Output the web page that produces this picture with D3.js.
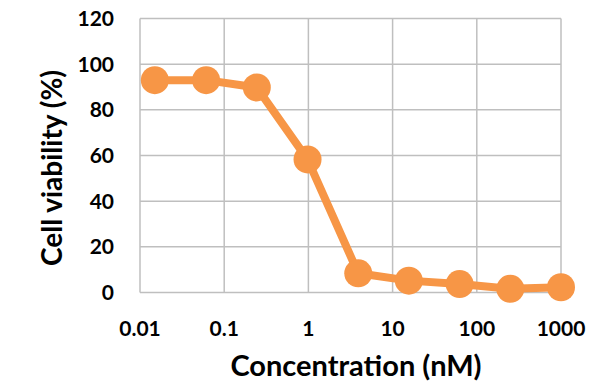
<!DOCTYPE html>
<html>
<head>
<meta charset="utf-8">
<script src="https://cdn.jsdelivr.net/npm/d3@7"></script>
<style>
  html, body { margin: 0; padding: 0; background: #fff; }
  svg { display: block; }
  text { font-family: Lato, "Open Sans", sans-serif; font-weight: bold; fill: #000; }
</style>
</head>
<body>
<svg id="chart" width="600" height="381"></svg>
<script>
// Dose–response: 4-fold serial dilution from 1000 nM
const concentrations = [0.015, 0.061, 0.244, 0.977, 3.91, 15.6, 62.5, 250, 1000];
const viability = [93.0, 93.0, 89.8, 58.3, 8.4, 5.2, 3.7, 1.6, 2.3];
const xTicks = [0.01, 0.1, 1, 10, 100, 1000];
const xTickLabels = ["0.01", "0.1", "1", "10", "100", "1000"];
const yTicks = [0, 20, 40, 60, 80, 100, 120];

const svg = d3.select("#chart");
const plot = { left: 140, right: 561, top: 18.5, bottom: 292.5 };

const x = d3.scaleLog().domain([0.01, 1000]).range([plot.left, plot.right]);
const y = d3.scaleLinear().domain([0, 120]).range([plot.bottom, plot.top]);

const gridColor = "#bfbfbf";

// Gridlines
const grid = svg.append("g");
grid.selectAll("line.h").data(yTicks).join("line")
  .attr("class", "h")
  .attr("x1", plot.left).attr("x2", plot.right)
  .attr("y1", d => y(d)).attr("y2", d => y(d))
  .attr("stroke", gridColor).attr("stroke-width", 1.5);
grid.selectAll("line.v").data(xTicks).join("line")
  .attr("class", "v")
  .attr("x1", d => x(d)).attr("x2", d => x(d))
  .attr("y1", plot.top).attr("y2", plot.bottom)
  .attr("stroke", gridColor).attr("stroke-width", 1.5);

// Y tick labels
svg.append("g").selectAll("text").data(yTicks).join("text")
  .attr("x", 114).attr("y", d => y(d))
  .attr("dy", "0.36em")
  .attr("text-anchor", "end")
  .attr("font-size", 21)
  .text(d => d);

// X tick labels
svg.append("g").selectAll("text").data(xTicks).join("text")
  .attr("x", d => x(d)).attr("y", 336)
  .attr("text-anchor", "middle")
  .attr("font-size", 21)
  .text((d, i) => xTickLabels[i]);

// Axis titles
svg.append("text")
  .attr("x", 356).attr("y", 376)
  .attr("text-anchor", "middle")
  .attr("font-size", 29)
  .text("Concentration (nM)");

svg.append("text")
  .attr("transform", "translate(62,168) rotate(-90)")
  .attr("text-anchor", "middle")
  .attr("font-size", 28)
  .text("Cell viability (%)");

// Series
const orange = "#f79646";
const pts = concentrations.map((c, i) => [c, viability[i]]);
svg.append("path")
  .datum(pts)
  .attr("fill", "none")
  .attr("stroke", orange)
  .attr("stroke-width", 8)
  .attr("stroke-linejoin", "round")
  .attr("d", d3.line().x(d => x(d[0])).y(d => y(d[1])));

svg.append("g").selectAll("circle").data(pts).join("circle")
  .attr("cx", d => x(d[0])).attr("cy", d => y(d[1]))
  .attr("r", 14)
  .attr("fill", orange);
</script>
</body>
</html>
